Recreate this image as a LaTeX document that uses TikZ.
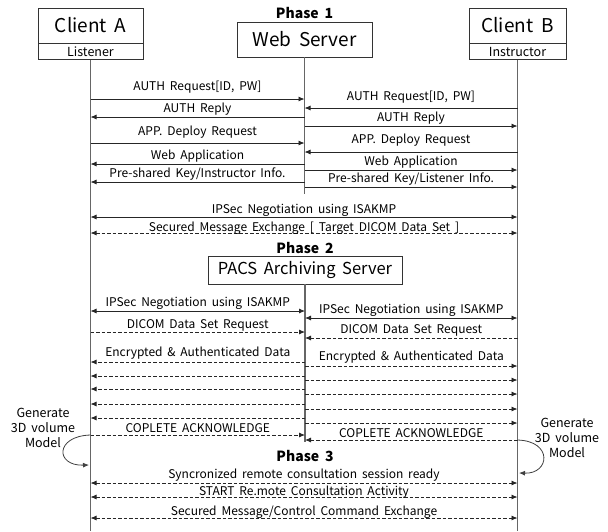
\documentclass[tikz,border=0pt]{standalone}
\usepackage{fontspec}
\setmainfont[WordSpace=1.8]{Noto Sans CJK KR}
\usetikzlibrary{arrows.meta,calc}

% one message: style, from, to, line y, label, label y, label name
\newcommand\seqmsg[7]{%
  \draw[#1] (#2 |- 0,#4) -- (#3 |- 0,#4);
  \node[lbl] (#7) at ($(#2 |- 0,#6)!0.5!(#3 |- 0,#6)$) {#5};}

\begin{document}
\begin{tikzpicture}[x=1pt,y=-1pt,
  titlebox/.style={draw=black!80, line width=0.8pt, fill=white, inner sep=0pt,
    font=\fontsize{19}{21}\selectfont},
  rolebox/.style={draw=black!80, line width=0.8pt, fill=white, inner sep=0pt,
    font=\fontsize{12.5}{14}\selectfont},
  phase/.style={font=\bfseries\fontsize{14}{16}\selectfont, inner sep=0pt},
  lbl/.style={font=\fontsize{12}{14}\selectfont, inner sep=0pt},
  note/.style={font=\fontsize{12.5}{15}\selectfont, align=center, inner sep=0pt},
  life/.style={draw=black!60, line width=1.3pt},
  tip/.style={-{Latex[length=6pt,width=5pt]}},
  msg/.style={tip, line width=0.8pt, black!85},
  bmsg/.style={{Latex[length=6pt,width=5pt]}-{Latex[length=6pt,width=5pt]}, line width=0.8pt, black!85},
  dmsg/.style={msg, dash pattern=on 3.5pt off 2pt},
  dbmsg/.style={bmsg, dash pattern=on 3.5pt off 2pt},
  loop/.style={-{Latex[length=6pt,width=5pt]}, line width=0.8pt, black!75}
]
\useasboundingbox (0,0) rectangle (608,531);

% participants
\node[titlebox, minimum width=105, minimum height=35] (CA) at (90.5,25.5) {Client A};
\node[rolebox, minimum width=105, minimum height=16, anchor=north] (CAr) at (CA.south) {Listener};
\node[titlebox, minimum width=97, minimum height=35] (CB) at (517.5,25.5) {Client B};
\node[rolebox, minimum width=97, minimum height=16, anchor=north] (CBr) at (CB.south) {Instructor};
\node[titlebox, minimum width=135, minimum height=35] (WS) at (304.5,39.5) {Web Server};
\node[titlebox, minimum width=194, minimum height=28, font=\fontsize{16.5}{18}\selectfont]
  (PACS) at (305,270) {PACS Archiving Server};

\node[phase] (ph1) at (304.5,13) {Phase 1};
\node[phase] (ph2) at (305,248) {Phase 2};
\node[phase] (ph3) at (305,456) {Phase 3};

% lifelines
\draw[life] (CAr.south) -- (CA |- 0,531);
\draw[life] (CBr.south) -- (CB |- 0,531);
\draw[life] (WS.south) -- (WS |- 0,194);
\draw[life] (PACS.south) -- (PACS |- 0,442);

% phase 1 : client A <-> web server
\seqmsg{msg}{CA}{WS}{99}{AUTH Request[ID, PW]}{87}{a1}
\seqmsg{msg}{WS}{CA}{117}{AUTH Reply}{109}{a2}
\seqmsg{msg}{CA}{WS}{143}{APP. Deploy Request}{132}{a3}
\seqmsg{msg}{WS}{CA}{164}{Web Application}{156}{a4}
\seqmsg{msg}{WS}{CA}{182}{Pre-shared Key/Instructor Info.}{174}{a5}
% phase 1 : client B <-> web server
\seqmsg{msg}{CB}{WS}{108}{AUTH Request[ID, PW]}{97}{b1}
\seqmsg{msg}{WS}{CB}{126}{AUTH Reply}{118}{b2}
\seqmsg{msg}{CB}{WS}{152}{APP. Deploy Request}{140}{b3}
\seqmsg{msg}{WS}{CB}{170}{Web Application}{162}{b4}
\seqmsg{msg}{WS}{CB}{187}{Pre-shared Key/Listener Info.}{179}{b5}
% phase 1 : client A <-> client B
\seqmsg{bmsg}{CA}{CB}{217}{IPSec Negotiation using ISAKMP}{210}{c1}
\seqmsg{dbmsg}{CA}{CB}{233}{Secured Message Exchange [ Target DICOM Data Set ]}{228}{c2}

% phase 2 : client A <-> PACS
\seqmsg{bmsg}{CA}{PACS}{311}{IPSec Negotiation using ISAKMP}{303}{d1}
\seqmsg{dmsg}{CA}{PACS}{332}{DICOM Data Set Request}{325}{d2}
\seqmsg{dmsg}{PACS}{CA}{362}{Encrypted \& Authenticated Data}{353}{d3}
\foreach \yy in {376,389,404,418} \draw[dmsg] (PACS |- 0,\yy) -- (CA |- 0,\yy);
\seqmsg{dmsg}{CA}{PACS}{435}{COPLETE ACKNOWLEDGE}{428}{d4}
% phase 2 : client B <-> PACS
\seqmsg{bmsg}{CB}{PACS}{318}{IPSec Negotiation using ISAKMP}{310}{e1}
\seqmsg{dmsg}{CB}{PACS}{338}{DICOM Data Set Request}{330}{e2}
\seqmsg{dmsg}{PACS}{CB}{366}{Encrypted \& Authenticated Data}{357}{e3}
\foreach \yy in {380,394,409,423} \draw[dmsg] (PACS |- 0,\yy) -- (CB |- 0,\yy);
\seqmsg{dmsg}{CB}{PACS}{440}{COPLETE ACKNOWLEDGE}{433}{e4}

% phase 3 : client A <-> client B
\seqmsg{dbmsg}{CA}{CB}{483}{Syncronized remote consultation session ready}{475}{f1}
\seqmsg{dbmsg}{CA}{CB}{497}{START Re.mote Consultation Activity}{492}{f2}
\seqmsg{dbmsg}{CA}{CB}{518}{Secured Message/Control Command Exchange}{512}{f3}

% local 3D model generation on each client
\node[note] (gA) at (43,428) {Generate\\3D volume\\Model};
\node[note] (gB) at (567,438) {Generate\\3D volume\\Model};
\coordinate (gA0) at (90.5,435);
\coordinate (gA1) at (89,465);
\coordinate (gB0) at (517.5,440);
\coordinate (gB1) at (519,473);
\draw[loop] (gA0) .. controls (55,436) and (55,466) .. (gA1);
\draw[loop] (gB0) .. controls (553,441) and (550,474) .. (gB1);
\end{tikzpicture}
\end{document}
